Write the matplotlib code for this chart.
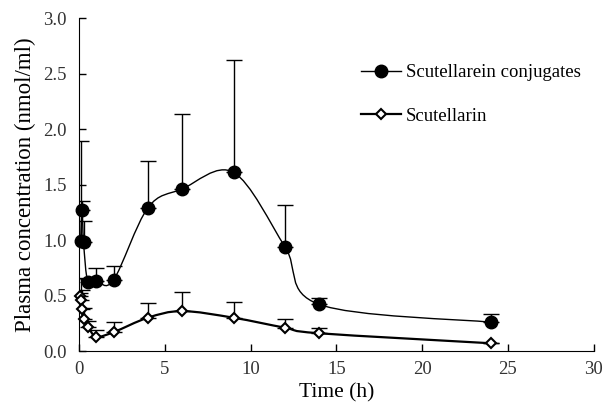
import matplotlib
matplotlib.use("Agg")
import matplotlib.pyplot as plt
import numpy as np
from matplotlib.path import Path
from matplotlib.patches import PathPatch
from matplotlib.lines import Line2D

plt.rcParams['font.family'] = ['Liberation Serif', 'DejaVu Serif']

# 数据
conj_t = [0.083, 0.167, 0.25, 0.5, 1, 2, 4, 6, 9, 12, 14, 24]
conj_y = [0.99, 1.27, 0.98, 0.62, 0.63, 0.64, 1.29, 1.46, 1.61, 0.94, 0.42, 0.26]
conj_err = [0.90, 0.08, 0.19, 0.03, 0.12, 0.13, 0.42, 0.68, 1.01, 0.38, 0.06, 0.07]

scu_t = [0.033, 0.083, 0.167, 0.25, 0.5, 1, 2, 4, 6, 9, 12, 14, 24]
scu_y = [0.50, 0.46, 0.38, 0.29, 0.22, 0.13, 0.17, 0.30, 0.36, 0.30, 0.21, 0.16, 0.07]
scu_err = [0.02, 0.20, 0.17, 0.10, 0.05, 0.06, 0.09, 0.13, 0.17, 0.14, 0.075, 0.05, 0.005]

x_ticks = [0, 5, 10, 15, 20, 25, 30]
y_ticks = [0.0, 0.5, 1.0, 1.5, 2.0, 2.5, 3.0]


def smooth_path(x, y):
    """Excel式平滑曲线（Catmull-Rom -> 三次贝塞尔）"""
    p = np.column_stack([x, y]).astype(float)
    n = len(p)
    verts = [p[0]]
    codes = [Path.MOVETO]
    for i in range(n - 1):
        p0 = p[i - 1] if i > 0 else p[i]
        p3 = p[i + 2] if i + 2 < n else p[i + 1]
        c1 = p[i] + (p[i + 1] - p0) / 6.0
        c2 = p[i + 1] - (p3 - p[i]) / 6.0
        verts += [c1, c2, p[i + 1]]
        codes += [Path.CURVE4] * 3
    return Path(verts, codes)


fig = plt.figure(figsize=(6.05, 4.12), dpi=100)
ax = fig.add_axes([0.131, 0.148, 0.850, 0.808])

# 误差线（只画上半）
ax.errorbar(conj_t, conj_y, yerr=[np.zeros(len(conj_err)), conj_err], fmt='none',
            ecolor='black', elinewidth=1, capsize=6, capthick=1, zorder=2)
ax.errorbar(scu_t, scu_y, yerr=[np.zeros(len(scu_err)), scu_err], fmt='none',
            ecolor='black', elinewidth=1, capsize=6, capthick=1, zorder=2)

# 平滑曲线
ax.add_patch(PathPatch(smooth_path(conj_t, conj_y), facecolor='none', edgecolor='black',
                       linewidth=1.0, zorder=3))
ax.add_patch(PathPatch(smooth_path(scu_t, scu_y), facecolor='none', edgecolor='black',
                       linewidth=1.6, zorder=3))

# 标记
ax.plot(conj_t, conj_y, linestyle='none', marker='o', markersize=9,
        color='black', zorder=4, clip_on=False)
ax.plot(scu_t, scu_y, linestyle='none', marker='D', markersize=5.5,
        markerfacecolor='white', markeredgecolor='black', markeredgewidth=1.5,
        zorder=5, clip_on=False)

ax.set_xlim(0, 30)
ax.set_ylim(0, 3.0)
ax.set_xticks(x_ticks)
ax.set_yticks(y_ticks)
ax.set_xticklabels([str(v) for v in x_ticks])
ax.set_yticklabels(['%.1f' % v for v in y_ticks])
ax.tick_params(direction='in', length=5, width=1, labelsize=13.5, colors='black')
ax.tick_params(axis='x', pad=7, labelcolor='#333333')
ax.tick_params(axis='y', pad=9, labelcolor='#333333')
ax.spines['top'].set_visible(False)
ax.spines['right'].set_visible(False)
ax.set_xlabel('Time (h)', fontsize=15.5, labelpad=4)
ax.set_ylabel('Plasma concentration (nmol/ml)', fontsize=16.5, labelpad=5)

handles = [
    Line2D([], [], color='black', linewidth=1.0, marker='o', markersize=9),
    Line2D([], [], color='black', linewidth=1.6, marker='D', markersize=5.5,
           markerfacecolor='white', markeredgewidth=1.5),
]
ax.legend(handles, ['Scutellarein conjugates', 'Scutellarin'], loc='upper left',
          bbox_to_anchor=(0.53, 0.89), frameon=False, fontsize=13.5,
          handlelength=2.1, handletextpad=0.3, labelspacing=1.4, borderpad=0)

plt.savefig('out.png', dpi=100)
